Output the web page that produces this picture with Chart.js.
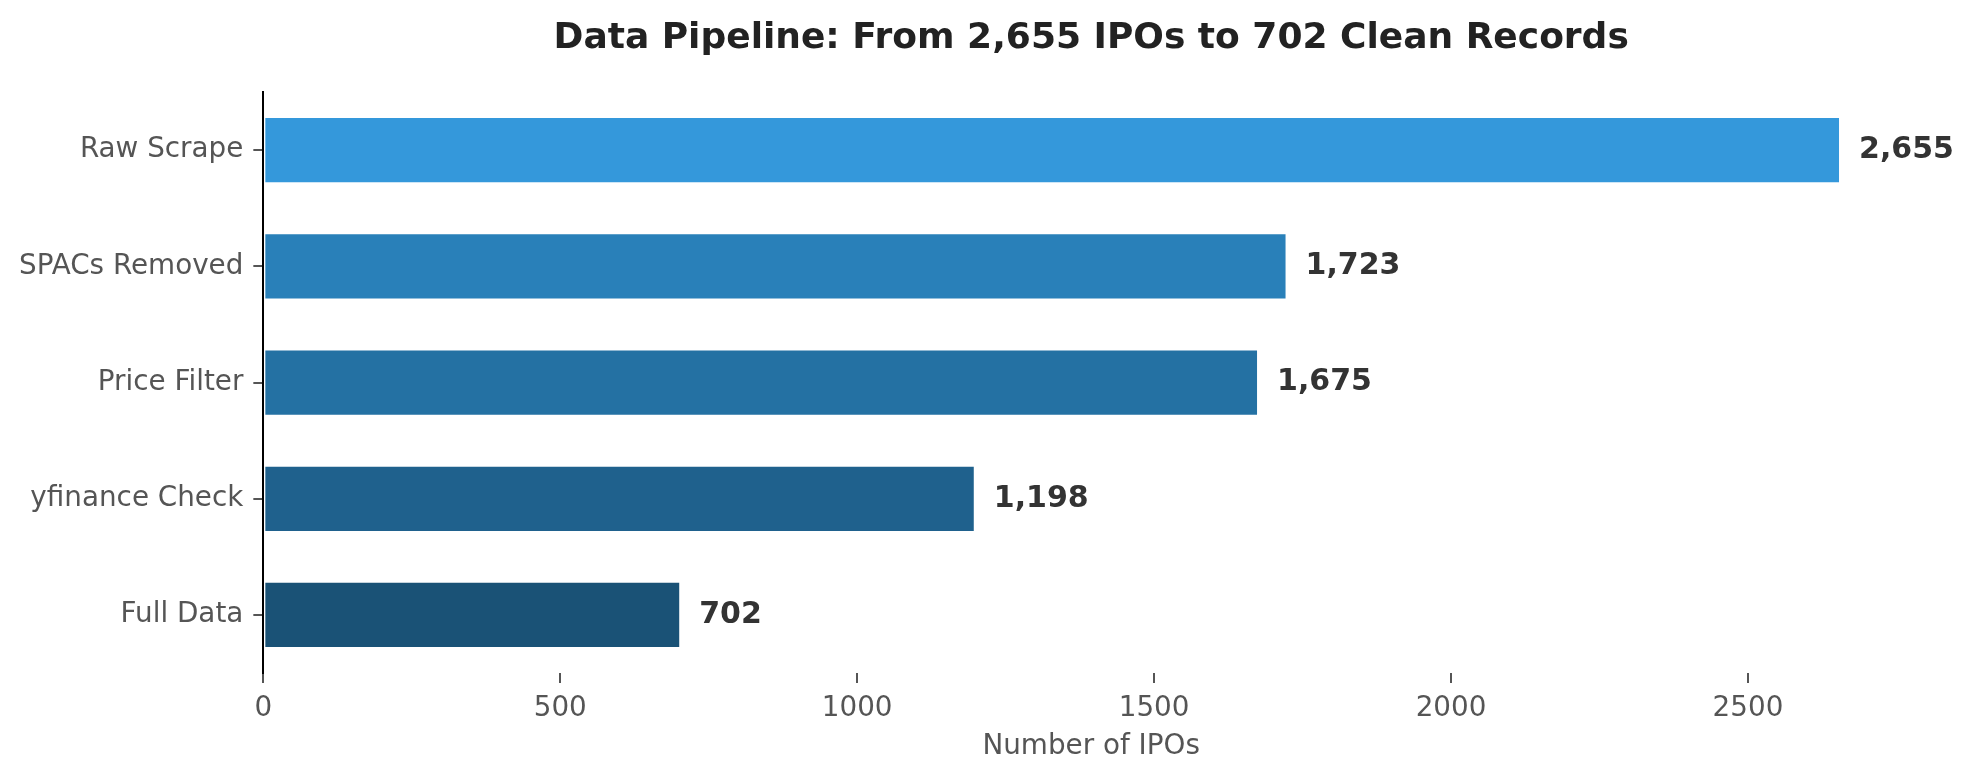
<!DOCTYPE html>
<html>
<head>
<meta charset="utf-8">
<script src="https://cdn.jsdelivr.net/npm/chart.js@4.4.1/dist/chart.umd.min.js"></script>
<style>
  html, body { margin: 0; padding: 0; background: #fff; }
  #wrap { width: 1975px; height: 779px; }
</style>
</head>
<body>
<div id="wrap"><canvas id="chart"></canvas></div>
<script>
// pipeline stages, top to bottom
const stages = ['Raw Scrape', 'SPACs Removed', 'Price Filter', 'yfinance Check', 'Full Data'];
const counts = [2655, 1723, 1675, 1198, 702];
const barColors = ['#3498db', '#2980b9', '#2471a3', '#1f618d', '#1a5276'];
const xTicks = [0, 500, 1000, 1500, 2000, 2500];

Chart.defaults.font.family = '"DejaVu Sans", sans-serif';

// bold count printed just past the end of each bar
const valueLabels = {
    id: 'valueLabels',
    afterDatasetsDraw(chart) {
        const ctx = chart.ctx;
        const meta = chart.getDatasetMeta(0);
        ctx.save();
        ctx.font = 'bold 30px "DejaVu Sans", sans-serif';
        ctx.fillStyle = '#333333';
        ctx.textAlign = 'left';
        ctx.textBaseline = 'middle';
        meta.data.forEach((bar, i) => {
            ctx.fillText(counts[i].toLocaleString('en-US'), bar.x + 19, bar.y);
        });
        ctx.restore();
    }
};

new Chart(document.getElementById('chart'), {
    type: 'bar',
    data: {
        labels: stages,
        datasets: [{
            data: counts,
            backgroundColor: barColors,
            borderColor: '#ffffff',
            borderWidth: 1,
            borderSkipped: false,
            barPercentage: 0.57,
            categoryPercentage: 1.0
        }]
    },
    options: {
        indexAxis: 'y',
        responsive: true,
        maintainAspectRatio: false,
        animation: false,
        layout: { padding: { left: 9, right: 56, top: 0, bottom: 11.5 } },
        plugins: {
            legend: { display: false },
            tooltip: { enabled: false },
            title: {
                display: true,
                fullSize: false,
                text: 'Data Pipeline: From 2,655 IPOs to 702 Clean Records',
                color: '#222222',
                font: { size: 36, weight: 'bold' },
                padding: { top: 17, bottom: 31.8 }
            }
        },
        scales: {
            x: {
                min: 0,
                max: 2788,
                afterBuildTicks: (scale) => { scale.ticks = xTicks.map(v => ({ value: v })); },
                border: { display: false },
                grid: { drawOnChartArea: false, drawTicks: true, tickLength: 10, tickColor: '#555555', lineWidth: 2 },
                ticks: { color: '#555555', font: { size: 27.8 }, padding: 9, callback: (v) => String(v) },
                title: {
                    display: true,
                    text: 'Number of IPOs',
                    color: '#555555',
                    font: { size: 27.8 },
                    padding: { top: -4.3, bottom: 4 }
                }
            },
            y: {
                border: { display: true, color: '#000000', width: 2 },
                grid: { offset: false, drawOnChartArea: false, drawTicks: true, tickLength: 10, tickColor: '#555555', lineWidth: 2 },
                ticks: { color: '#555555', font: { size: 27.8 }, padding: 10 }
            }
        }
    },
    plugins: [valueLabels]
});
</script>
</body>
</html>
